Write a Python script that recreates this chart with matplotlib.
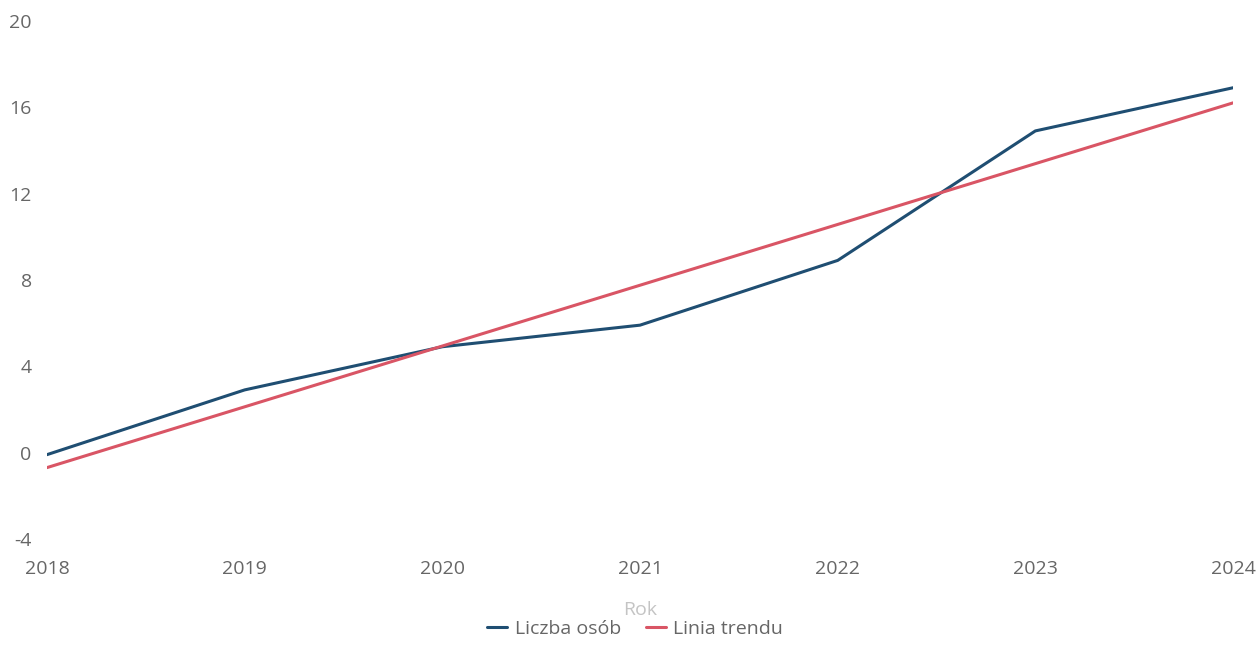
import matplotlib.pyplot as plt

# Data
years = [2018, 2019, 2020, 2021, 2022, 2023, 2024]
liczba_osob = [0, 3, 5, 6, 9, 15, 17]
trend_years = [2018, 2024]
trend_values = [-0.6, 16.3]
y_ticks = [-4, 0, 4, 8, 12, 16, 20]

plt.rcParams['font.family'] = ['Open Sans', 'DejaVu Sans']
plt.rcParams['axes.unicode_minus'] = False

fig = plt.figure(figsize=(12.6, 6.65), dpi=100)
ax = fig.add_axes([0.0373, 0.1865, 0.9413, 0.7789])

ax.plot(years, liczba_osob, color='#1f4e72', lw=2.2, label='Liczba osób',
        solid_capstyle='round')
ax.plot(trend_years, trend_values, color='#d95565', lw=2.2, label='Linia trendu',
        solid_capstyle='round')

ax.set_xlim(2018, 2024)
ax.set_ylim(-4, 20)
ax.set_yticks(y_ticks)
ax.set_xticks(years)

for s in ax.spines.values():
    s.set_visible(False)
ax.tick_params(axis='both', length=0, labelsize=14, labelcolor='#666666')
ax.tick_params(axis='y', pad=11)
ax.tick_params(axis='x', pad=14)
for lbl in ax.get_yticklabels():
    lbl.set_verticalalignment('center')

ax.set_xlabel('Rok', fontsize=14, color='#c4c4c4', labelpad=16)

leg = ax.legend(loc='upper center', bbox_to_anchor=(0.496, -0.118), ncol=2,
                frameon=False, fontsize=14, handlelength=1.0, handletextpad=0.4,
                columnspacing=1.3)
for t in leg.get_texts():
    t.set_color('#666666')

fig.savefig('out.png', dpi=100)
